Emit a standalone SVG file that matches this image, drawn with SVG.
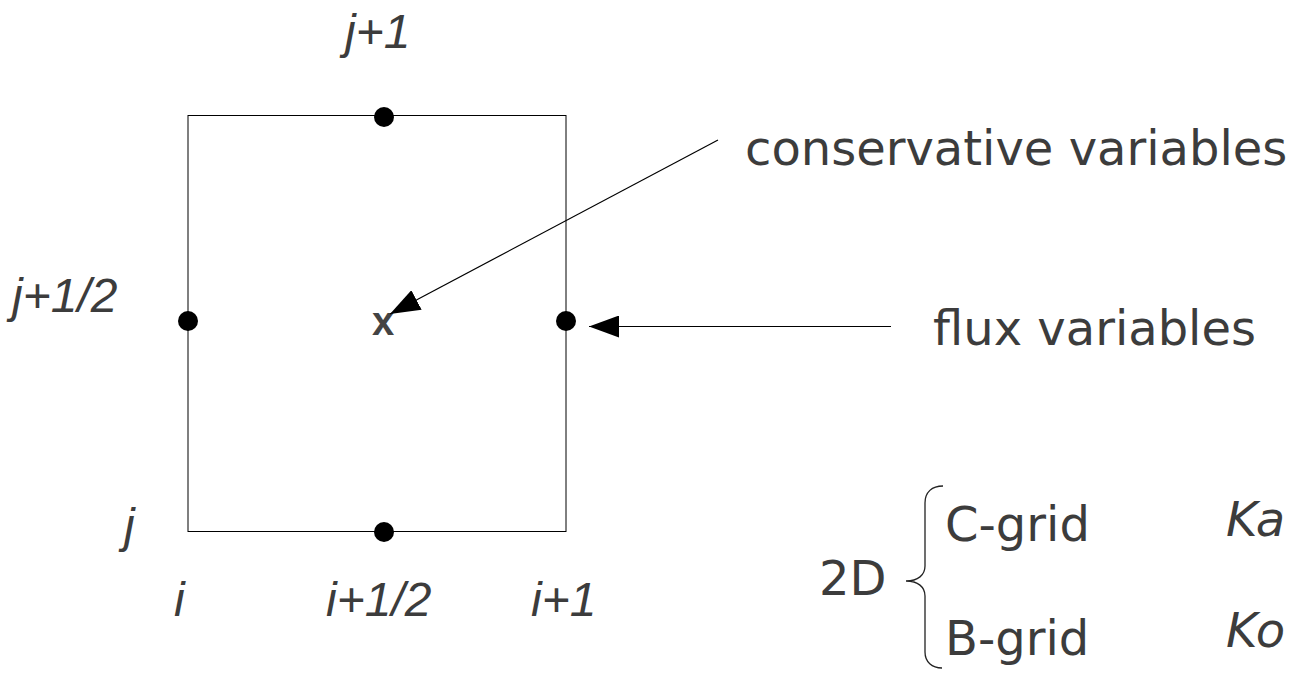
<svg xmlns="http://www.w3.org/2000/svg" width="1293" height="673" viewBox="0 0 1293 673">
<style>
.lbl{font-family:"DejaVu Sans",sans-serif;font-size:48px;fill:#3c3c3c}
.idx{font-family:"Liberation Sans",Arial,sans-serif;font-style:italic;font-size:48px;fill:#3c3c3c}
.ital{font-family:"DejaVu Sans",sans-serif;font-style:oblique;font-size:48px;fill:#3c3c3c}
.dot{fill:#000}
.cell{fill:none;stroke:#000;stroke-width:1}
.conn{stroke:#000;stroke-width:1.2;fill:none}
</style>
<defs>
<marker id="ah" viewBox="0 0 30 22" refX="30" refY="11" markerWidth="30" markerHeight="22" markerUnits="userSpaceOnUse" orient="auto">
<path d="M0,0 L30,11 L0,22 Z" fill="#000"/>
</marker>
</defs>
<rect width="1293" height="673" fill="#fff"/>
<g id="cell">
<rect class="cell" x="188" y="115.5" width="378" height="416"/>
</g>
<g id="points">
<circle class="dot" cx="384" cy="117" r="10"/>
<circle class="dot" cx="188" cy="321" r="10"/>
<circle class="dot" cx="566" cy="321" r="10"/>
<circle class="dot" cx="384" cy="532" r="10"/>
</g>
<g id="center">
<text x="383" y="335" text-anchor="middle" style="font-family:'Liberation Sans',Arial,sans-serif;font-weight:bold;font-size:40px;fill:#444">x</text>
</g>
<g id="index-labels">
<text class="idx" x="345" y="48">j+1</text>
<text class="idx" x="12" y="312">j+1/2</text>
<text class="idx" x="124" y="542">j</text>
<text class="idx" x="174" y="616">i</text>
<text class="idx" x="326" y="616">i+1/2</text>
<text class="idx" x="531" y="616">i+1</text>
</g>
<g id="connectors">
<line class="conn" x1="718" y1="140" x2="390" y2="314" marker-end="url(#ah)"/>
<line class="conn" x1="891" y1="326.5" x2="589" y2="326.5" marker-end="url(#ah)"/>
</g>
<g id="conservative-label">
<text class="lbl" x="745" y="165">conservative variables</text>
</g>
<g id="flux-label">
<text class="lbl" x="933" y="345">flux variables</text>
</g>
<g id="grid-types">
<text class="lbl" x="819" y="595">2D</text>
<path d="M943,486 C932,486 925,492 925,503 L925,566 C925,575 918,581 906,581 C918,581 925,587 925,596 L925,652 C925,662 932,668 942,668" fill="none" stroke="#222" stroke-width="1.3"/>
<text class="lbl" x="945" y="541">C-grid</text>
<text class="lbl" x="945" y="655">B-grid</text>
<text class="ital" x="1226" y="536">Ka</text>
<text class="ital" x="1226" y="647">Ko</text>
</g>
</svg>
